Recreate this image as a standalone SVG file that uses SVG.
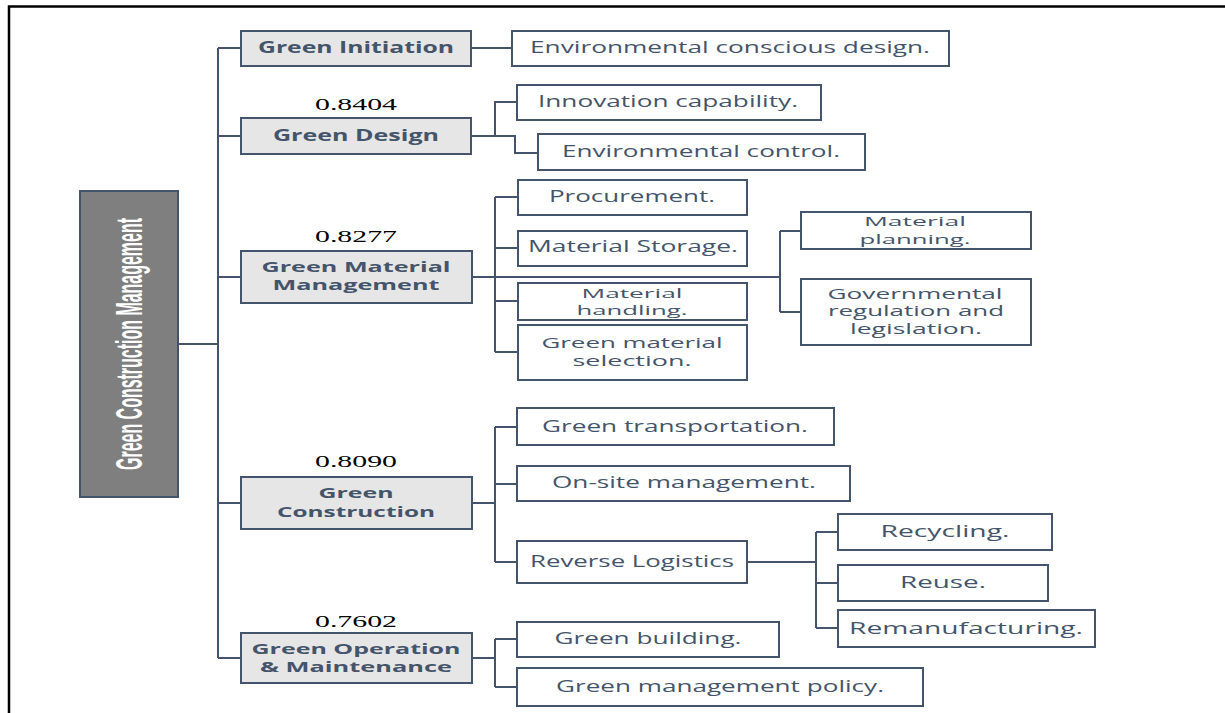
<svg xmlns="http://www.w3.org/2000/svg" width="1225" height="713" viewBox="0 0 1225 713">
<style>
.frame{stroke:#000;stroke-width:2.5;fill:none}
.root{fill:#7f7f7f;stroke:#44546a;stroke-width:2}
.l1{fill:#e7e6e6;stroke:#44546a;stroke-width:2}
.l2{fill:#fff;stroke:#44546a;stroke-width:2}
.con{stroke:#44546a;stroke-width:2;fill:none}
.b{font-family:"Open Sans","Liberation Sans",sans-serif;font-weight:bold;font-size:16px;fill:#44546a;text-anchor:middle}
.b2{font-size:15px}
.t{font-family:"Open Sans","Liberation Sans",sans-serif;font-size:15.5px;fill:#44546a;text-anchor:middle}
.t2{font-size:14px}
.t3{font-size:13px}
.n{font-family:"Liberation Serif","Times New Roman",serif;font-size:17.5px;fill:#000;text-anchor:middle}
.rt{font-family:"Liberation Sans",Arial,sans-serif;font-weight:bold;font-size:25px;fill:#fff;text-anchor:middle}
</style>
<rect width="1225" height="713" fill="#fff"/>
<path class="frame" d="M9,713 V6.5 H1225"/>

<g id="connectors">
<path class="con" d="M178,344 H218"/>
<path class="con" stroke-width="2.5" d="M218,48 V658"/>
<path class="con" d="M218,48 H241 M218,136 H241 M218,277 H241 M218,503 H241 M218,658 H241"/>
<path class="con" d="M471,48 H512"/>
<path class="con" d="M471,136 H495 V102 H517 M495,136 H515 V153 H538"/>
<path class="con" d="M472,277 H780 M495,197 V352 M495,197 H518 M495,248 H518 M495,301 H518 M495,352 H518"/>
<path class="con" d="M780,231 V312 M780,231 H801 M780,312 H801"/>
<path class="con" d="M472,503 H495 M495,427 V562 M495,427 H517 M495,484 H517 M495,562 H517"/>
<path class="con" d="M747,562 H816 M816,532 V628 M816,532 H838 M816,583 H838 M816,628 H838"/>
<path class="con" d="M472,658 H495 M495,639 V687 M495,639 H517 M495,687 H517"/>
</g>

<g id="root">
<rect class="root" x="80" y="191" width="98" height="306"/>
<text class="rt" transform="translate(142,344) rotate(-90) scale(1,1.45)" x="0" y="0" textLength="252" lengthAdjust="spacingAndGlyphs">Green Construction Management</text>
</g>

<g id="green-initiation">
<rect class="l1" x="241" y="31" width="230" height="35"/>
<text class="b" x="356" y="53" textLength="196" lengthAdjust="spacingAndGlyphs">Green Initiation</text>
</g>
<g id="green-design">
<text class="n" x="356" y="110" textLength="82" lengthAdjust="spacingAndGlyphs">0.8404</text>
<rect class="l1" x="241" y="118" width="230" height="36"/>
<text class="b" x="356" y="141" textLength="166" lengthAdjust="spacingAndGlyphs">Green Design</text>
</g>
<g id="green-material-management">
<text class="n" x="356" y="242" textLength="82" lengthAdjust="spacingAndGlyphs">0.8277</text>
<rect class="l1" x="241" y="251" width="231" height="52"/>
<text class="b b2" x="356" y="272" textLength="189" lengthAdjust="spacingAndGlyphs">Green Material</text>
<text class="b b2" x="356" y="290" textLength="167" lengthAdjust="spacingAndGlyphs">Management</text>
</g>
<g id="green-construction">
<text class="n" x="356" y="467" textLength="82" lengthAdjust="spacingAndGlyphs">0.8090</text>
<rect class="l1" x="241" y="477" width="231" height="52"/>
<text class="b b2" x="356" y="498" textLength="75" lengthAdjust="spacingAndGlyphs">Green</text>
<text class="b b2" x="356" y="517" textLength="158" lengthAdjust="spacingAndGlyphs">Construction</text>
</g>
<g id="green-operation">
<text class="n" x="356" y="627" textLength="82" lengthAdjust="spacingAndGlyphs">0.7602</text>
<rect class="l1" x="241" y="633" width="231" height="50"/>
<text class="b b2" x="356" y="654" textLength="209" lengthAdjust="spacingAndGlyphs">Green Operation</text>
<text class="b b2" x="356" y="672" textLength="192" lengthAdjust="spacingAndGlyphs">&amp; Maintenance</text>
</g>

<g id="env-conscious-design">
<rect class="l2" x="512" y="31" width="437" height="35"/>
<text class="t" x="730" y="53" textLength="400" lengthAdjust="spacingAndGlyphs">Environmental conscious design.</text>
</g>
<g id="innovation-capability">
<rect class="l2" x="517" y="85" width="304" height="35"/>
<text class="t" x="668" y="107" textLength="260" lengthAdjust="spacingAndGlyphs">Innovation capability.</text>
</g>
<g id="environmental-control">
<rect class="l2" x="538" y="134" width="327" height="36"/>
<text class="t" x="701" y="157" textLength="278" lengthAdjust="spacingAndGlyphs">Environmental control.</text>
</g>
<g id="procurement">
<rect class="l2" x="518" y="180" width="229" height="35"/>
<text class="t" x="632" y="202" textLength="166" lengthAdjust="spacingAndGlyphs">Procurement.</text>
</g>
<g id="material-storage">
<rect class="l2" x="518" y="231" width="229" height="35"/>
<text class="t" x="633" y="252" textLength="210" lengthAdjust="spacingAndGlyphs">Material Storage.</text>
</g>
<g id="material-handling">
<rect class="l2" x="518" y="283" width="229" height="37"/>
<text class="t t3" x="632" y="297.5" textLength="101" lengthAdjust="spacingAndGlyphs">Material</text>
<text class="t t3" x="632" y="315" textLength="111" lengthAdjust="spacingAndGlyphs">handling.</text>
</g>
<g id="green-material-selection">
<rect class="l2" x="518" y="325" width="229" height="55"/>
<text class="t t2" x="632" y="348" textLength="181" lengthAdjust="spacingAndGlyphs">Green material</text>
<text class="t t2" x="632" y="366" textLength="119" lengthAdjust="spacingAndGlyphs">selection.</text>
</g>
<g id="material-planning">
<rect class="l2" x="801" y="212" width="230" height="37"/>
<text class="t t3" x="915" y="226" textLength="102" lengthAdjust="spacingAndGlyphs">Material</text>
<text class="t t3" x="915" y="243.5" textLength="111" lengthAdjust="spacingAndGlyphs">planning.</text>
</g>
<g id="governmental-regulation">
<rect class="l2" x="801" y="279" width="230" height="66"/>
<text class="t t2" x="915" y="299" textLength="175" lengthAdjust="spacingAndGlyphs">Governmental</text>
<text class="t t2" x="916" y="316" textLength="176" lengthAdjust="spacingAndGlyphs">regulation and</text>
<text class="t t2" x="916" y="334" textLength="132" lengthAdjust="spacingAndGlyphs">legislation.</text>
</g>
<g id="green-transportation">
<rect class="l2" x="517" y="408" width="317" height="37"/>
<text class="t" x="675" y="432" textLength="266" lengthAdjust="spacingAndGlyphs">Green transportation.</text>
</g>
<g id="on-site-management">
<rect class="l2" x="517" y="466" width="333" height="35"/>
<text class="t" x="684" y="488" textLength="264" lengthAdjust="spacingAndGlyphs">On-site management.</text>
</g>
<g id="reverse-logistics">
<rect class="l2" x="517" y="541" width="230" height="42"/>
<text class="t" x="632" y="567" textLength="204" lengthAdjust="spacingAndGlyphs">Reverse Logistics</text>
</g>
<g id="recycling">
<rect class="l2" x="838" y="514" width="214" height="36"/>
<text class="t" x="945" y="537" textLength="129" lengthAdjust="spacingAndGlyphs">Recycling.</text>
</g>
<g id="reuse">
<rect class="l2" x="838" y="565" width="210" height="36"/>
<text class="t" x="943" y="588" textLength="86" lengthAdjust="spacingAndGlyphs">Reuse.</text>
</g>
<g id="remanufacturing">
<rect class="l2" x="838" y="610" width="257" height="37"/>
<text class="t" x="966" y="634" textLength="234" lengthAdjust="spacingAndGlyphs">Remanufacturing.</text>
</g>
<g id="green-building">
<rect class="l2" x="517" y="622" width="262" height="35"/>
<text class="t" x="648" y="644" textLength="187" lengthAdjust="spacingAndGlyphs">Green building.</text>
</g>
<g id="green-management-policy">
<rect class="l2" x="517" y="668" width="406" height="38"/>
<text class="t" x="720" y="692" textLength="328" lengthAdjust="spacingAndGlyphs">Green management policy.</text>
</g>
</svg>
